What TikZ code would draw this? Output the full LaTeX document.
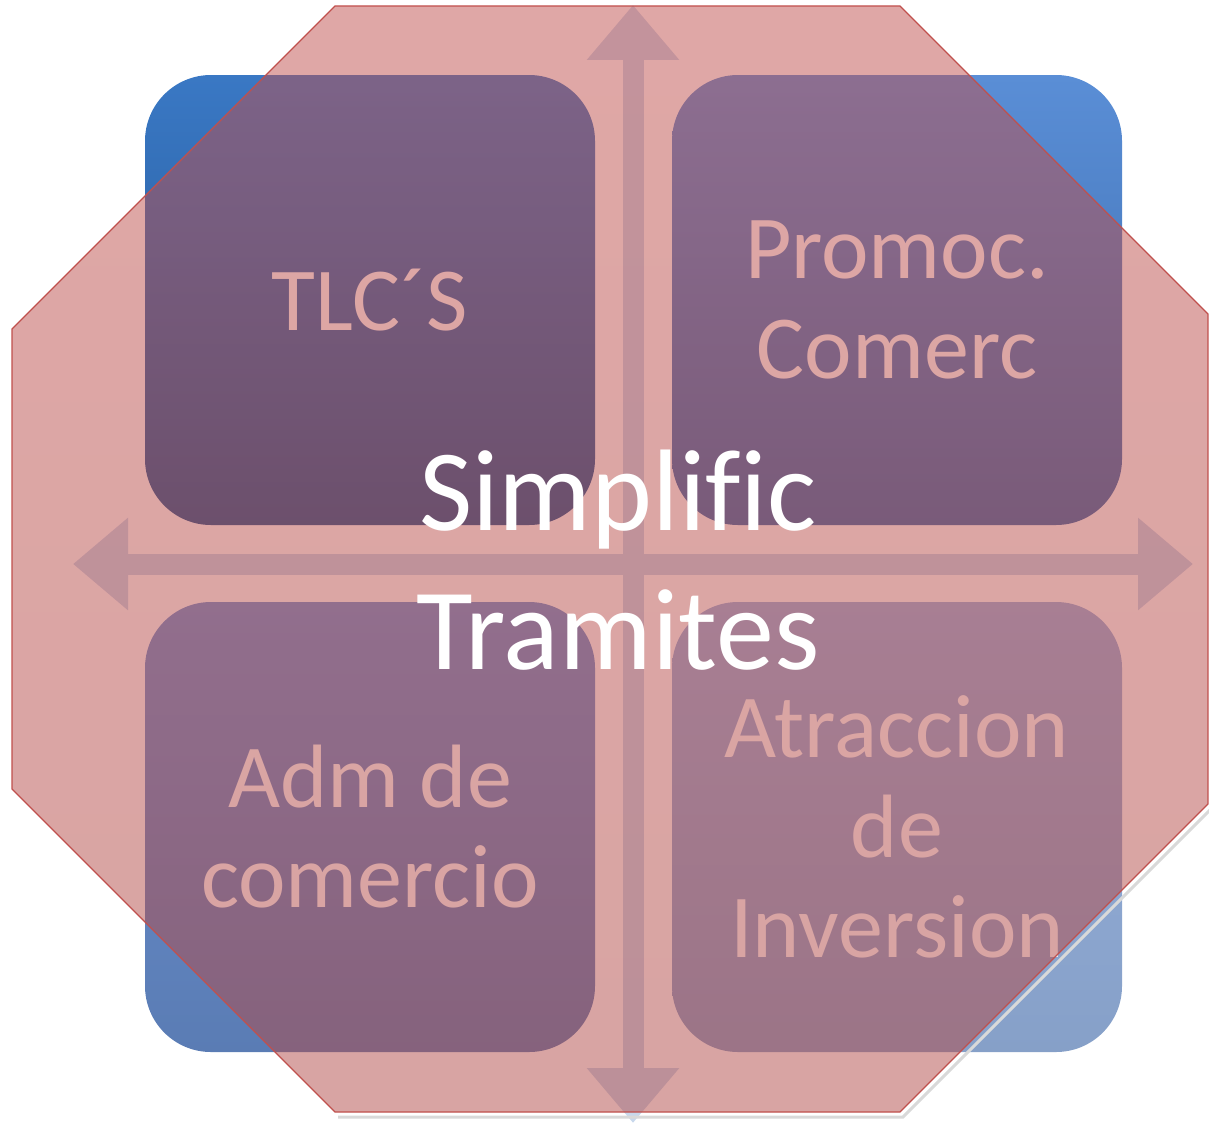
\documentclass[tikz,border=0pt]{standalone}
\usepackage{fontspec}
\setmainfont{Carlito}[Ligatures=NoCommon]
\usetikzlibrary{positioning,arrows.meta}

\definecolor{octred}{HTML}{C0504D}
\definecolor{crossblue}{HTML}{C8D8EC}
\definecolor{tltop}{HTML}{3A78C4}
\definecolor{tlbot}{HTML}{205490}
\definecolor{pctop}{HTML}{5A8ED6}
\definecolor{pcbot}{HTML}{3A6AAA}
\definecolor{adtop}{HTML}{6C92D2}
\definecolor{adbot}{HTML}{5A7CB4}
\definecolor{aitop}{HTML}{98B2DE}
\definecolor{aibot}{HTML}{86A0C8}

\begin{document}
\begin{tikzpicture}[x=1pt,y=-1pt,node distance=527pt,on grid]
        \tikzstyle{quad}=[rounded corners=66pt,minimum width=450pt,minimum height=450pt,inner sep=0pt,align=center,text=white,font=\fontsize{90}{100}\selectfont]
        \tikzstyle{cross}=[crossblue,line width=21pt,{Triangle[length=55pt,width=89pt]}-{Triangle[length=55pt,width=89pt]}]
        \useasboundingbox (0,0) rectangle (1209,1124);
        % the four quadrants
        \node[quad,top color=tltop,bottom color=tlbot] (Tl) at (370,300) {TLC´S};
        \node[quad,top color=pctop,bottom color=pcbot] (Pc) [right=of Tl] {Promoc.\\Comerc};
        \node[quad,top color=adtop,bottom color=adbot] (Ad) [below=of Tl] {Adm de\\comercio};
        \node[quad,top color=aitop,bottom color=aibot] (Ai) [below=of Pc] {Atraccion\\de\\Inversion};
        % cross arrows
        \coordinate (vt) at (633,5);
        \coordinate (vb) at (633,1123);
        \coordinate (hl) at (73,564);
        \coordinate (hr) at (1193,564);
        \draw[cross] (vt) -- (vb);
        \draw[cross] (hl) -- (hr);
        % octagon
        \coordinate (o1) at (335,6);
        \coordinate (o2) at (900,6);
        \coordinate (o3) at (1208,314);
        \coordinate (o4) at (1208,804);
        \coordinate (o5) at (900,1112);
        \coordinate (o6) at (335,1112);
        \coordinate (o7) at (12,789);
        \coordinate (o8) at (12,329);
        \draw[black!15,line width=3pt] ([shift={(3,5)}]o4) -- ([shift={(3,5)}]o5) -- ([shift={(3,5)}]o6);
        \shade[top color=octred,bottom color=octred!92!black,opacity=.5] (o1) -- (o2) -- (o3) -- (o4) -- (o5) -- (o6) -- (o7) -- (o8) -- cycle;
        \draw[octred,line width=1.3pt] (o1) -- (o2) -- (o3) -- (o4) -- (o5) -- (o6) -- (o7) -- (o8) -- cycle;
        \node[text=white,align=center,font=\fontsize{116}{139}\selectfont] (St) at (618,560) {Simplific\\Tramites};
\end{tikzpicture}
\end{document}
